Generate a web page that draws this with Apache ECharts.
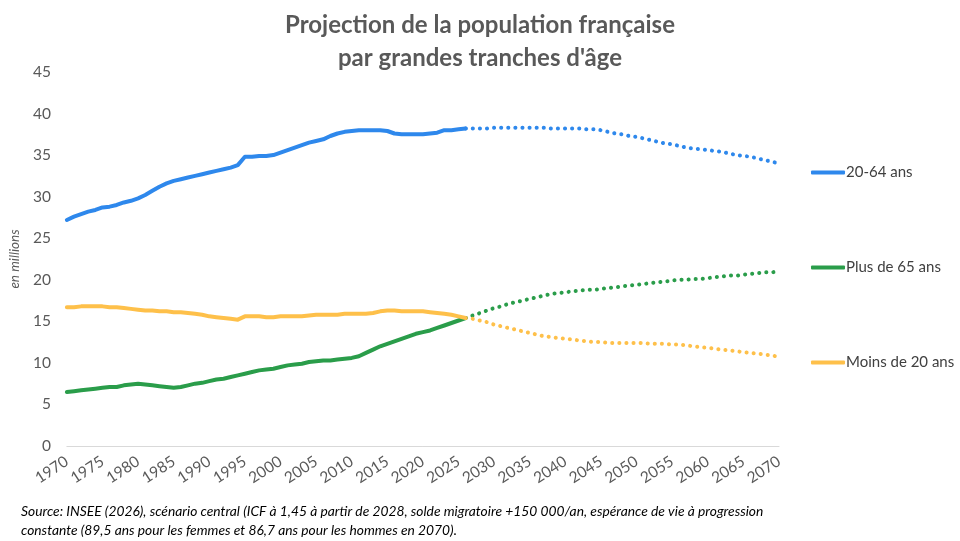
<!DOCTYPE html>
<html>
<head>
<meta charset="utf-8">
<script src="https://cdn.jsdelivr.net/npm/echarts@6/dist/echarts.min.js"></script>
<style>html,body{margin:0;padding:0;background:#fff;}#c{width:960px;height:541px;}</style>
</head>
<body>
<div id="c"></div>
<script>
// Years 1970..2070
var years = [];
for (var y = 1970; y <= 2070; y++) years.push(String(y));

// Observed 1970..2026
var adultsObs = [27.2,27.6,27.9,28.2,28.4,28.7,28.8,29.0,29.3,29.5,29.8,30.2,30.7,31.2,31.6,31.9,32.1,32.3,32.5,32.7,32.9,33.1,33.3,33.5,33.8,34.8,34.8,34.9,34.9,35.0,35.3,35.6,35.9,36.2,36.5,36.7,36.9,37.3,37.6,37.8,37.9,38.0,38.0,38.0,38.0,37.9,37.6,37.5,37.5,37.5,37.5,37.6,37.7,38.0,38.0,38.1,38.2];
var seniorsObs = [6.5,6.6,6.7,6.8,6.9,7.0,7.1,7.1,7.3,7.4,7.5,7.4,7.3,7.2,7.1,7.0,7.1,7.3,7.5,7.6,7.8,8.0,8.1,8.3,8.5,8.7,8.9,9.1,9.2,9.3,9.5,9.7,9.8,9.9,10.1,10.2,10.3,10.3,10.4,10.5,10.6,10.8,11.2,11.6,12.0,12.3,12.6,12.9,13.2,13.5,13.7,13.9,14.2,14.5,14.8,15.1,15.4];
var youthObs = [16.7,16.7,16.8,16.8,16.8,16.8,16.7,16.7,16.6,16.5,16.4,16.3,16.3,16.2,16.2,16.1,16.1,16.0,15.9,15.8,15.6,15.5,15.4,15.3,15.2,15.6,15.6,15.6,15.5,15.5,15.6,15.6,15.6,15.6,15.7,15.8,15.8,15.8,15.8,15.9,15.9,15.9,15.9,16.0,16.2,16.3,16.3,16.2,16.2,16.2,16.2,16.1,16.0,15.9,15.8,15.6,15.4];

// Projection 2026..2070
var adultsProj = [38.2,38.2,38.2,38.2,38.3,38.3,38.3,38.3,38.3,38.3,38.3,38.3,38.2,38.2,38.2,38.2,38.2,38.1,38.1,38.0,37.8,37.6,37.5,37.3,37.2,37.0,36.8,36.6,36.4,36.3,36.1,35.9,35.8,35.7,35.6,35.5,35.4,35.2,35.0,34.9,34.8,34.6,34.4,34.2,34.0];
var seniorsProj = [15.4,15.7,16.0,16.3,16.6,16.8,17.1,17.3,17.5,17.7,17.9,18.1,18.3,18.4,18.5,18.6,18.7,18.8,18.8,18.9,19.0,19.1,19.2,19.3,19.4,19.5,19.6,19.7,19.8,19.9,20.0,20.0,20.1,20.1,20.2,20.3,20.4,20.5,20.5,20.6,20.7,20.8,20.9,20.9,21.0];
var youthProj = [15.4,15.3,15.1,14.9,14.6,14.4,14.2,14.0,13.8,13.6,13.4,13.2,13.1,13.0,12.9,12.8,12.7,12.6,12.5,12.5,12.4,12.4,12.4,12.4,12.4,12.4,12.3,12.3,12.3,12.2,12.2,12.1,12.0,11.9,11.8,11.7,11.6,11.5,11.4,11.3,11.2,11.1,11.0,10.9,10.7];

var seriesNames = ['20-64 ans', 'Plus de 65 ans', 'Moins de 20 ans'];
var colors = ['#2E88EC', '#2A9D4A', '#FEC04A'];

function padObs(arr) { var out = arr.slice(); while (out.length < years.length) out.push(null); return out; }
function padProj(arr) { var out = []; var start = years.length - arr.length; for (var i = 0; i < start; i++) out.push(null); return out.concat(arr); }

var obs = [adultsObs, seniorsObs, youthObs];
var proj = [adultsProj, seniorsProj, youthProj];
var series = [];
for (var i = 0; i < 3; i++) {
  series.push({
    name: seriesNames[i], type: 'line', data: padObs(obs[i]), symbol: 'none',
    lineStyle: { color: colors[i], width: 4, cap: 'round', join: 'round' },
    itemStyle: { color: colors[i] }, z: 3
  });
  series.push({
    name: seriesNames[i], type: 'line', data: padProj(proj[i]), symbol: 'none',
    lineStyle: { color: colors[i], width: 4, type: [0.1, 7], cap: 'round' },
    itemStyle: { color: colors[i] }, z: 2
  });
}

var chart = echarts.init(document.getElementById('c'));
chart.setOption({
  animation: false,
  backgroundColor: '#fff',
  title: {
    text: 'Projection de la population française\npar grandes tranches d\'âge',
    left: 'center', top: 4,
    textStyle: { fontFamily: 'Lato', fontWeight: 'bold', fontSize: 24, color: '#595959', lineHeight: 33 }
  },
  legend: {
    orient: 'vertical', left: 806, top: 160, itemGap: 80,
    data: seriesNames, icon: 'roundRect', itemWidth: 34, itemHeight: 4,
    selectedMode: false,
    textStyle: { fontFamily: 'Lato', fontSize: 15, color: '#404040', padding: [0, 0, 0, -4] }
  },
  grid: { left: 61, right: 181, top: 72, bottom: 95, containLabel: false },
  xAxis: {
    type: 'category', data: years, boundaryGap: false,
    axisLine: { lineStyle: { color: '#D9D9D9', width: 1 } },
    axisTick: { show: false },
    axisLabel: {
      interval: 4, rotate: 33, fontFamily: 'Lato', fontSize: 15.5, color: '#595959', margin: 14
    },
    splitLine: { show: false }
  },
  yAxis: {
    type: 'value', min: 0, max: 45, interval: 5,
    name: 'en millions', nameLocation: 'middle', nameGap: 42, nameRotate: 90,
    nameTextStyle: { fontFamily: 'Lato', fontStyle: 'italic', fontSize: 13.5, color: '#595959' },
    axisLine: { show: false }, axisTick: { show: false },
    axisLabel: { fontFamily: 'Lato', fontSize: 15.5, color: '#595959', margin: 16 },
    splitLine: { show: false }
  },
  graphic: [{
    type: 'text', left: 21, top: 502,
    style: {
      text: 'Source: INSEE (2026), scénario central (ICF à 1,45 à partir de 2028, solde migratoire +150 000/an, espérance de vie à progression\nconstante (89,5 ans pour les femmes et 86,7 ans pour les hommes en 2070).',
      fontFamily: 'Lato', fontStyle: 'italic', fontSize: 13.8, lineHeight: 19, fill: '#000'
    }
  }],
  series: series
});
</script>
</body>
</html>
